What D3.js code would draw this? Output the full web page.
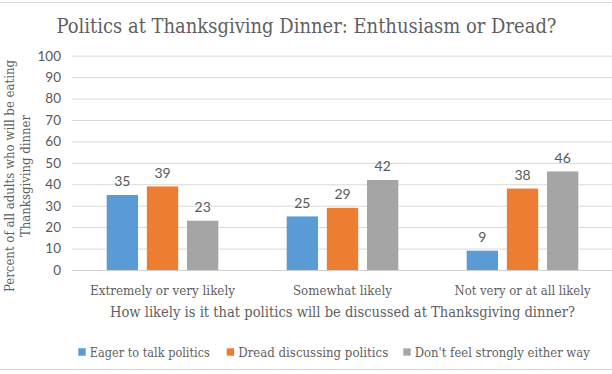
<!DOCTYPE html>
<html><head><meta charset="utf-8">
<script src="https://cdn.jsdelivr.net/npm/d3@7"></script>
<style>
body{margin:0;background:#fff;}
svg{display:block;}
.slab{font-family:"DejaVu Serif",serif;font-stretch:condensed;fill:#5f5f5f;}
.sans{font-family:Lato,"Open Sans",sans-serif;fill:#595959;}
</style></head>
<body><svg id="c" width="612" height="374"></svg>
<script>
const categories = ["Extremely or very likely","Somewhat likely","Not very or at all likely"];
const seriesNames = ["Eager to talk politics","Dread discussing politics","Don't feel strongly either way"];
const eager = [35,25,9];
const dread = [39,29,38];
const neutral = [23,42,46];
const yTicks = [0,10,20,30,40,50,60,70,80,90,100];
const colors = ["#5B9BD5","#ED7D31","#A5A5A5"];
const seriesValues = [eager,dread,neutral];

const svg = d3.select("#c");
// border
svg.append("rect").attr("x",-1.5).attr("y",2.5).attr("width",620).attr("height",367)
  .attr("fill","none").attr("stroke","#d9d9d9");

const y = d3.scaleLinear().domain([0,100]).range([270,55.7]);
const x0 = d3.scaleBand().domain(categories).range([72.5,612.5]);
const x1 = d3.scaleBand().domain(seriesNames).range([34.2,145.8]).paddingInner(0.22);

function fit(sel,w){ sel.attr("textLength",w).attr("lengthAdjust","spacingAndGlyphs"); return sel; }

// title
fit(svg.append("text").attr("class","slab").attr("x",306.5).attr("y",33.3).attr("text-anchor","middle")
  .attr("font-size",21).text("Politics at Thanksgiving Dinner: Enthusiasm or Dread?"),500);

// gridlines
const yAxis = d3.axisLeft(y).tickValues(yTicks).tickSize(-(612-72)).tickPadding(11).tickFormat(d3.format("d"));
const g = svg.append("g").attr("transform","translate(72,0)").call(yAxis);
g.select(".domain").remove();
g.selectAll(".tick line").attr("stroke","#d9d9d9");
g.selectAll(".tick text").attr("class","sans").attr("font-size",13.5).attr("fill","#595959");
g.selectAll(".tick").filter(d=>d===0).select("line").attr("stroke","#d0d0d0");

// bars
const groups = svg.append("g").selectAll("g").data(categories).join("g")
  .attr("transform",d=>`translate(${x0(d)},0)`);
groups.selectAll("rect").data((d,i)=>seriesNames.map((s,j)=>({s,j,v:seriesValues[j][i]})))
  .join("rect")
  .attr("x",d=>x1(d.s)).attr("width",x1.bandwidth())
  .attr("y",d=>y(d.v)).attr("height",d=>y(0)-y(d.v))
  .attr("fill",d=>colors[d.j]);
groups.selectAll("text").data((d,i)=>seriesNames.map((s,j)=>({s,j,v:seriesValues[j][i]})))
  .join("text").attr("class","sans").attr("font-size",14)
  .attr("text-anchor","middle")
  .attr("x",d=>x1(d.s)+x1.bandwidth()/2).attr("y",d=>y(d.v)-8.5)
  .text(d=>d.v);

// category labels
const catW = [145,99,136];
categories.forEach((c,i)=>{
  fit(svg.append("text").attr("class","slab").attr("font-size",13.5).attr("text-anchor","middle")
    .attr("x",x0(c)+x0.bandwidth()/2).attr("y",294.5).text(c),catW[i]);
});
// x axis title
fit(svg.append("text").attr("class","slab").attr("font-size",14).attr("text-anchor","middle")
  .attr("x",342.5).attr("y",317).text("How likely is it that politics will be discussed at Thanksgiving dinner?"),465);

// y axis title
const yt = svg.append("g").attr("transform","translate(0,176) rotate(-90)");
fit(yt.append("text").attr("class","slab").attr("font-size",13.5).attr("text-anchor","middle")
  .attr("x",0).attr("y",13.5).text("Percent of all adults who will be eating"),232);
fit(yt.append("text").attr("class","slab").attr("font-size",13.5).attr("text-anchor","middle")
  .attr("x",0).attr("y",30).text("Thanksgiving dinner"),122);

// legend
const legX = [78.3,226.7,403.3];
const legW = [120,150,175];
seriesNames.forEach((s,i)=>{
  svg.append("rect").attr("x",legX[i]).attr("y",348.3).attr("width",7.4).attr("height",7.4).attr("fill",colors[i]);
  fit(svg.append("text").attr("class","slab").attr("font-size",13.5).attr("x",legX[i]+11.5).attr("y",356.5).text(s),legW[i]);
});
</script></body></html>
